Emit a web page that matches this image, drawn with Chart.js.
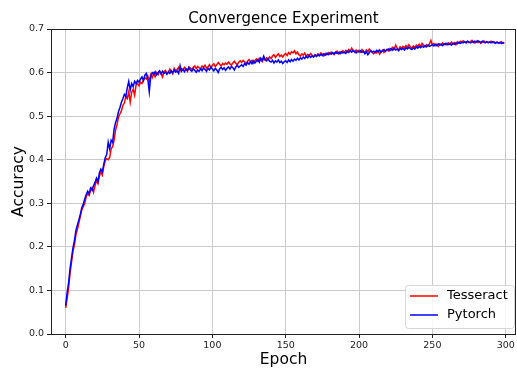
<!DOCTYPE html>
<html lang="en">
<head>
    <meta charset="UTF-8">
    <title>Convergence Experiment</title>
    <script src="https://cdn.jsdelivr.net/npm/chart.js@4.4.1/dist/chart.umd.min.js"></script>
    <style>
        body { margin: 0; background: #fff; }
        canvas { display: block; }
    </style>
</head>
<body>
    <canvas id="myChart" width="517" height="368"></canvas>

    <script>
        // values, one per epoch (0..299)
        const tesseract = [
            0.060, 0.082, 0.105, 0.140, 0.165, 0.190, 0.205, 0.228, 0.240, 0.255,
            0.270, 0.285, 0.292, 0.300, 0.315, 0.322, 0.318, 0.330, 0.336, 0.325,
            0.340, 0.352, 0.345, 0.362, 0.372, 0.365, 0.385, 0.398, 0.402, 0.400,
            0.405, 0.425, 0.430, 0.445, 0.468, 0.480, 0.498, 0.505, 0.512, 0.525,
            0.530, 0.545, 0.540, 0.556, 0.532, 0.555, 0.562, 0.548, 0.572, 0.575,
            0.570, 0.578, 0.575, 0.582, 0.588, 0.585, 0.592, 0.580, 0.595, 0.588,
            0.598, 0.590, 0.600, 0.595, 0.603, 0.598, 0.590, 0.602, 0.605, 0.598,
            0.600, 0.608, 0.603, 0.597, 0.610, 0.605, 0.607, 0.612, 0.604, 0.609,
            0.606, 0.612, 0.608, 0.603, 0.613, 0.610, 0.607, 0.612, 0.615, 0.609,
            0.614, 0.611, 0.608, 0.615, 0.612, 0.617, 0.610, 0.613, 0.618, 0.612,
            0.616, 0.620, 0.614, 0.618, 0.623, 0.619, 0.615, 0.621, 0.618, 0.622,
            0.619, 0.624, 0.620, 0.617, 0.622, 0.626, 0.621, 0.618, 0.624, 0.627,
            0.623, 0.628, 0.625, 0.620, 0.626, 0.630, 0.624, 0.628, 0.622, 0.627,
            0.631, 0.626, 0.633, 0.629, 0.625, 0.632, 0.628, 0.634, 0.630, 0.636,
            0.632, 0.638, 0.641, 0.635, 0.639, 0.643, 0.637, 0.640, 0.636, 0.641,
            0.644, 0.639, 0.646, 0.642, 0.648, 0.645, 0.650, 0.643, 0.647, 0.641,
            0.638, 0.643, 0.640, 0.645, 0.637, 0.642, 0.639, 0.644, 0.640, 0.636,
            0.641, 0.638, 0.643, 0.640, 0.645, 0.642, 0.638, 0.644, 0.641, 0.646,
            0.643, 0.647, 0.644, 0.641, 0.646, 0.649, 0.643, 0.648, 0.645, 0.650,
            0.646, 0.651, 0.648, 0.653, 0.649, 0.656, 0.650, 0.647, 0.652, 0.648,
            0.651, 0.647, 0.653, 0.649, 0.645, 0.652, 0.648, 0.654, 0.650, 0.646,
            0.643, 0.648, 0.645, 0.650, 0.642, 0.647, 0.651, 0.646, 0.649, 0.653,
            0.650, 0.655, 0.652, 0.658, 0.654, 0.663, 0.656, 0.652, 0.659, 0.655,
            0.660, 0.657, 0.662, 0.658, 0.664, 0.659, 0.656, 0.661, 0.658, 0.663,
            0.660, 0.665, 0.661, 0.667, 0.663, 0.659, 0.664, 0.661, 0.666, 0.674,
            0.663, 0.667, 0.662, 0.665, 0.660, 0.666, 0.663, 0.668, 0.664, 0.667,
            0.663, 0.668, 0.665, 0.670, 0.666, 0.669, 0.664, 0.671, 0.668, 0.672,
            0.669, 0.673, 0.670, 0.668, 0.672, 0.669, 0.671, 0.674, 0.670, 0.668,
            0.672, 0.669, 0.671, 0.667, 0.670, 0.673, 0.669, 0.671, 0.668, 0.670,
            0.672, 0.669, 0.671, 0.668, 0.670, 0.667, 0.669, 0.671, 0.668, 0.669
        ];
        const pytorch = [
            0.065, 0.095, 0.118, 0.150, 0.175, 0.198, 0.215, 0.238, 0.250, 0.262,
            0.275, 0.290, 0.298, 0.310, 0.320, 0.328, 0.322, 0.335, 0.330, 0.340,
            0.348, 0.358, 0.350, 0.370, 0.378, 0.372, 0.390, 0.405, 0.412, 0.440,
            0.425, 0.445, 0.440, 0.470, 0.485, 0.495, 0.510, 0.520, 0.532, 0.540,
            0.550, 0.545, 0.565, 0.580, 0.560, 0.575, 0.568, 0.580, 0.575, 0.582,
            0.578, 0.585, 0.590, 0.582, 0.594, 0.598, 0.585, 0.556, 0.592, 0.600,
            0.596, 0.602, 0.595, 0.600, 0.604, 0.597, 0.603, 0.598, 0.601, 0.596,
            0.602, 0.598, 0.604, 0.600, 0.606, 0.601, 0.604, 0.598, 0.616, 0.603,
            0.607, 0.602, 0.609, 0.605, 0.611, 0.606, 0.603, 0.609, 0.605, 0.601,
            0.606, 0.603, 0.609, 0.604, 0.611, 0.607, 0.603, 0.610, 0.606, 0.612,
            0.608, 0.604, 0.610, 0.606, 0.600, 0.609, 0.612, 0.607, 0.611, 0.605,
            0.610, 0.613, 0.608, 0.614, 0.611, 0.606, 0.613, 0.617, 0.612, 0.615,
            0.618, 0.614, 0.621, 0.617, 0.623, 0.619, 0.625, 0.620, 0.627, 0.622,
            0.626, 0.630, 0.624, 0.633, 0.628, 0.638, 0.630, 0.627, 0.632, 0.626,
            0.624, 0.628, 0.622, 0.627, 0.624, 0.629, 0.623, 0.626, 0.621, 0.625,
            0.627, 0.623, 0.629, 0.625, 0.630, 0.626, 0.631, 0.628, 0.633, 0.629,
            0.634, 0.631, 0.636, 0.632, 0.637, 0.634, 0.639, 0.635, 0.638, 0.636,
            0.640, 0.637, 0.641, 0.638, 0.642, 0.639, 0.643, 0.640, 0.644, 0.641,
            0.645, 0.642, 0.646, 0.643, 0.647, 0.644, 0.646, 0.643, 0.648, 0.645,
            0.647, 0.644, 0.649, 0.646, 0.650, 0.647, 0.651, 0.648, 0.645, 0.649,
            0.647, 0.650, 0.646, 0.649, 0.643, 0.648, 0.641, 0.646, 0.650, 0.647,
            0.649, 0.646, 0.651, 0.648, 0.652, 0.647, 0.650, 0.653, 0.649, 0.652,
            0.654, 0.650, 0.655, 0.651, 0.656, 0.652, 0.654, 0.650, 0.655, 0.653,
            0.656, 0.652, 0.657, 0.654, 0.658, 0.655, 0.653, 0.657, 0.654, 0.659,
            0.656, 0.660, 0.657, 0.661, 0.658, 0.662, 0.659, 0.663, 0.660, 0.662,
            0.664, 0.661, 0.665, 0.662, 0.666, 0.663, 0.665, 0.662, 0.666, 0.664,
            0.667, 0.664, 0.666, 0.663, 0.667, 0.665, 0.668, 0.666, 0.669, 0.667,
            0.670, 0.668, 0.671, 0.669, 0.672, 0.670, 0.668, 0.671, 0.669, 0.672,
            0.670, 0.673, 0.671, 0.669, 0.672, 0.670, 0.668, 0.671, 0.669, 0.670,
            0.668, 0.671, 0.669, 0.667, 0.670, 0.668, 0.669, 0.667, 0.668, 0.668
        ];
        const epochs = tesseract.map((v, i) => i);
        const xTicks = [0, 50, 100, 150, 200, 250, 300];
        const yTicks = [0.0, 0.1, 0.2, 0.3, 0.4, 0.5, 0.6, 0.7];

        const font = "'DejaVu Sans', sans-serif";

        // title, frame and legend box drawn on top, matplotlib style
        const decorations = {
            id: 'decorations',
            afterDraw(chart) {
                const ctx = chart.ctx;
                const a = chart.chartArea;
                ctx.save();
                ctx.strokeStyle = '#222';
                ctx.lineWidth = 1;
                ctx.strokeRect(a.left + 0.5, a.top + 0.5, a.right - a.left - 1, a.bottom - a.top);

                ctx.fillStyle = '#000';
                ctx.font = '15px ' + font;
                ctx.textAlign = 'center';
                ctx.textBaseline = 'alphabetic';
                ctx.fillText('Convergence Experiment', (a.left + a.right) / 2, 23);

                // legend
                const bx = 405, by = 285, bw = 109, bh = 43;
                ctx.beginPath();
                ctx.roundRect(bx + 0.5, by + 0.5, bw, bh, 3);
                ctx.fillStyle = 'rgba(255,255,255,0.85)';
                ctx.fill();
                ctx.strokeStyle = '#d6d6d6';
                ctx.stroke();
                ctx.font = '13px ' + font;
                ctx.textAlign = 'left';
                ctx.textBaseline = 'middle';
                chart.data.datasets.forEach((ds, i) => {
                    const y = by + 11 + i * 19;
                    ctx.strokeStyle = ds.borderColor;
                    ctx.lineWidth = 1.5;
                    ctx.beginPath();
                    ctx.moveTo(bx + 5, y);
                    ctx.lineTo(bx + 33, y);
                    ctx.stroke();
                    ctx.fillStyle = '#000';
                    ctx.fillText(ds.label, bx + 42, y);
                });
                ctx.restore();
            }
        };

        const ctx = document.getElementById('myChart');
        const myChart = new Chart(ctx, {
            type: 'line',
            data: {
                labels: epochs,
                datasets: [{
                    label: 'Tesseract',
                    data: tesseract,
                    borderColor: '#ff0000',
                    borderWidth: 1.5,
                    pointRadius: 0,
                    order: 1
                }, {
                    label: 'Pytorch',
                    data: pytorch,
                    borderColor: '#0000ff',
                    borderWidth: 1.5,
                    pointRadius: 0,
                    order: 0
                }]
            },
            options: {
                responsive: false,
                animation: false,
                devicePixelRatio: 1,
                layout: { padding: { top: 29, right: 1, left: 0, bottom: 0 } },
                plugins: {
                    legend: { display: false },
                    tooltip: { enabled: false }
                },
                scales: {
                    x: {
                        type: 'linear',
                        min: -10,
                        max: 307,
                        afterBuildTicks: s => { s.ticks = xTicks.map(v => ({ value: v })); },
                        afterFit: s => { s.height = 34; },
                        ticks: { color: '#222', font: { family: font, size: 9.5 }, padding: 2, maxRotation: 0 },
                        grid: { color: '#cbcbcb', lineWidth: 1, tickLength: 4, tickColor: '#222' },
                        border: { display: false },
                        title: { display: true, text: 'Epoch', color: '#000', font: { family: font, size: 15.5, lineHeight: 1 }, padding: { top: 0, bottom: 0 } }
                    },
                    y: {
                        min: 0,
                        max: 0.7,
                        afterBuildTicks: s => { s.ticks = yTicks.map(v => ({ value: v })); },
                        afterFit: s => { s.width = 51; },
                        ticks: { color: '#222', font: { family: font, size: 9.5 }, padding: 3, callback: v => v.toFixed(1) },
                        grid: { color: '#cbcbcb', lineWidth: 1, tickLength: 4, tickColor: '#222' },
                        border: { display: false },
                        title: { display: true, text: 'Accuracy', color: '#000', font: { family: font, size: 15.5 }, padding: { top: 10, bottom: 0 } }
                    }
                }
            },
            plugins: [decorations]
        });
    </script>
</body>
</html>
